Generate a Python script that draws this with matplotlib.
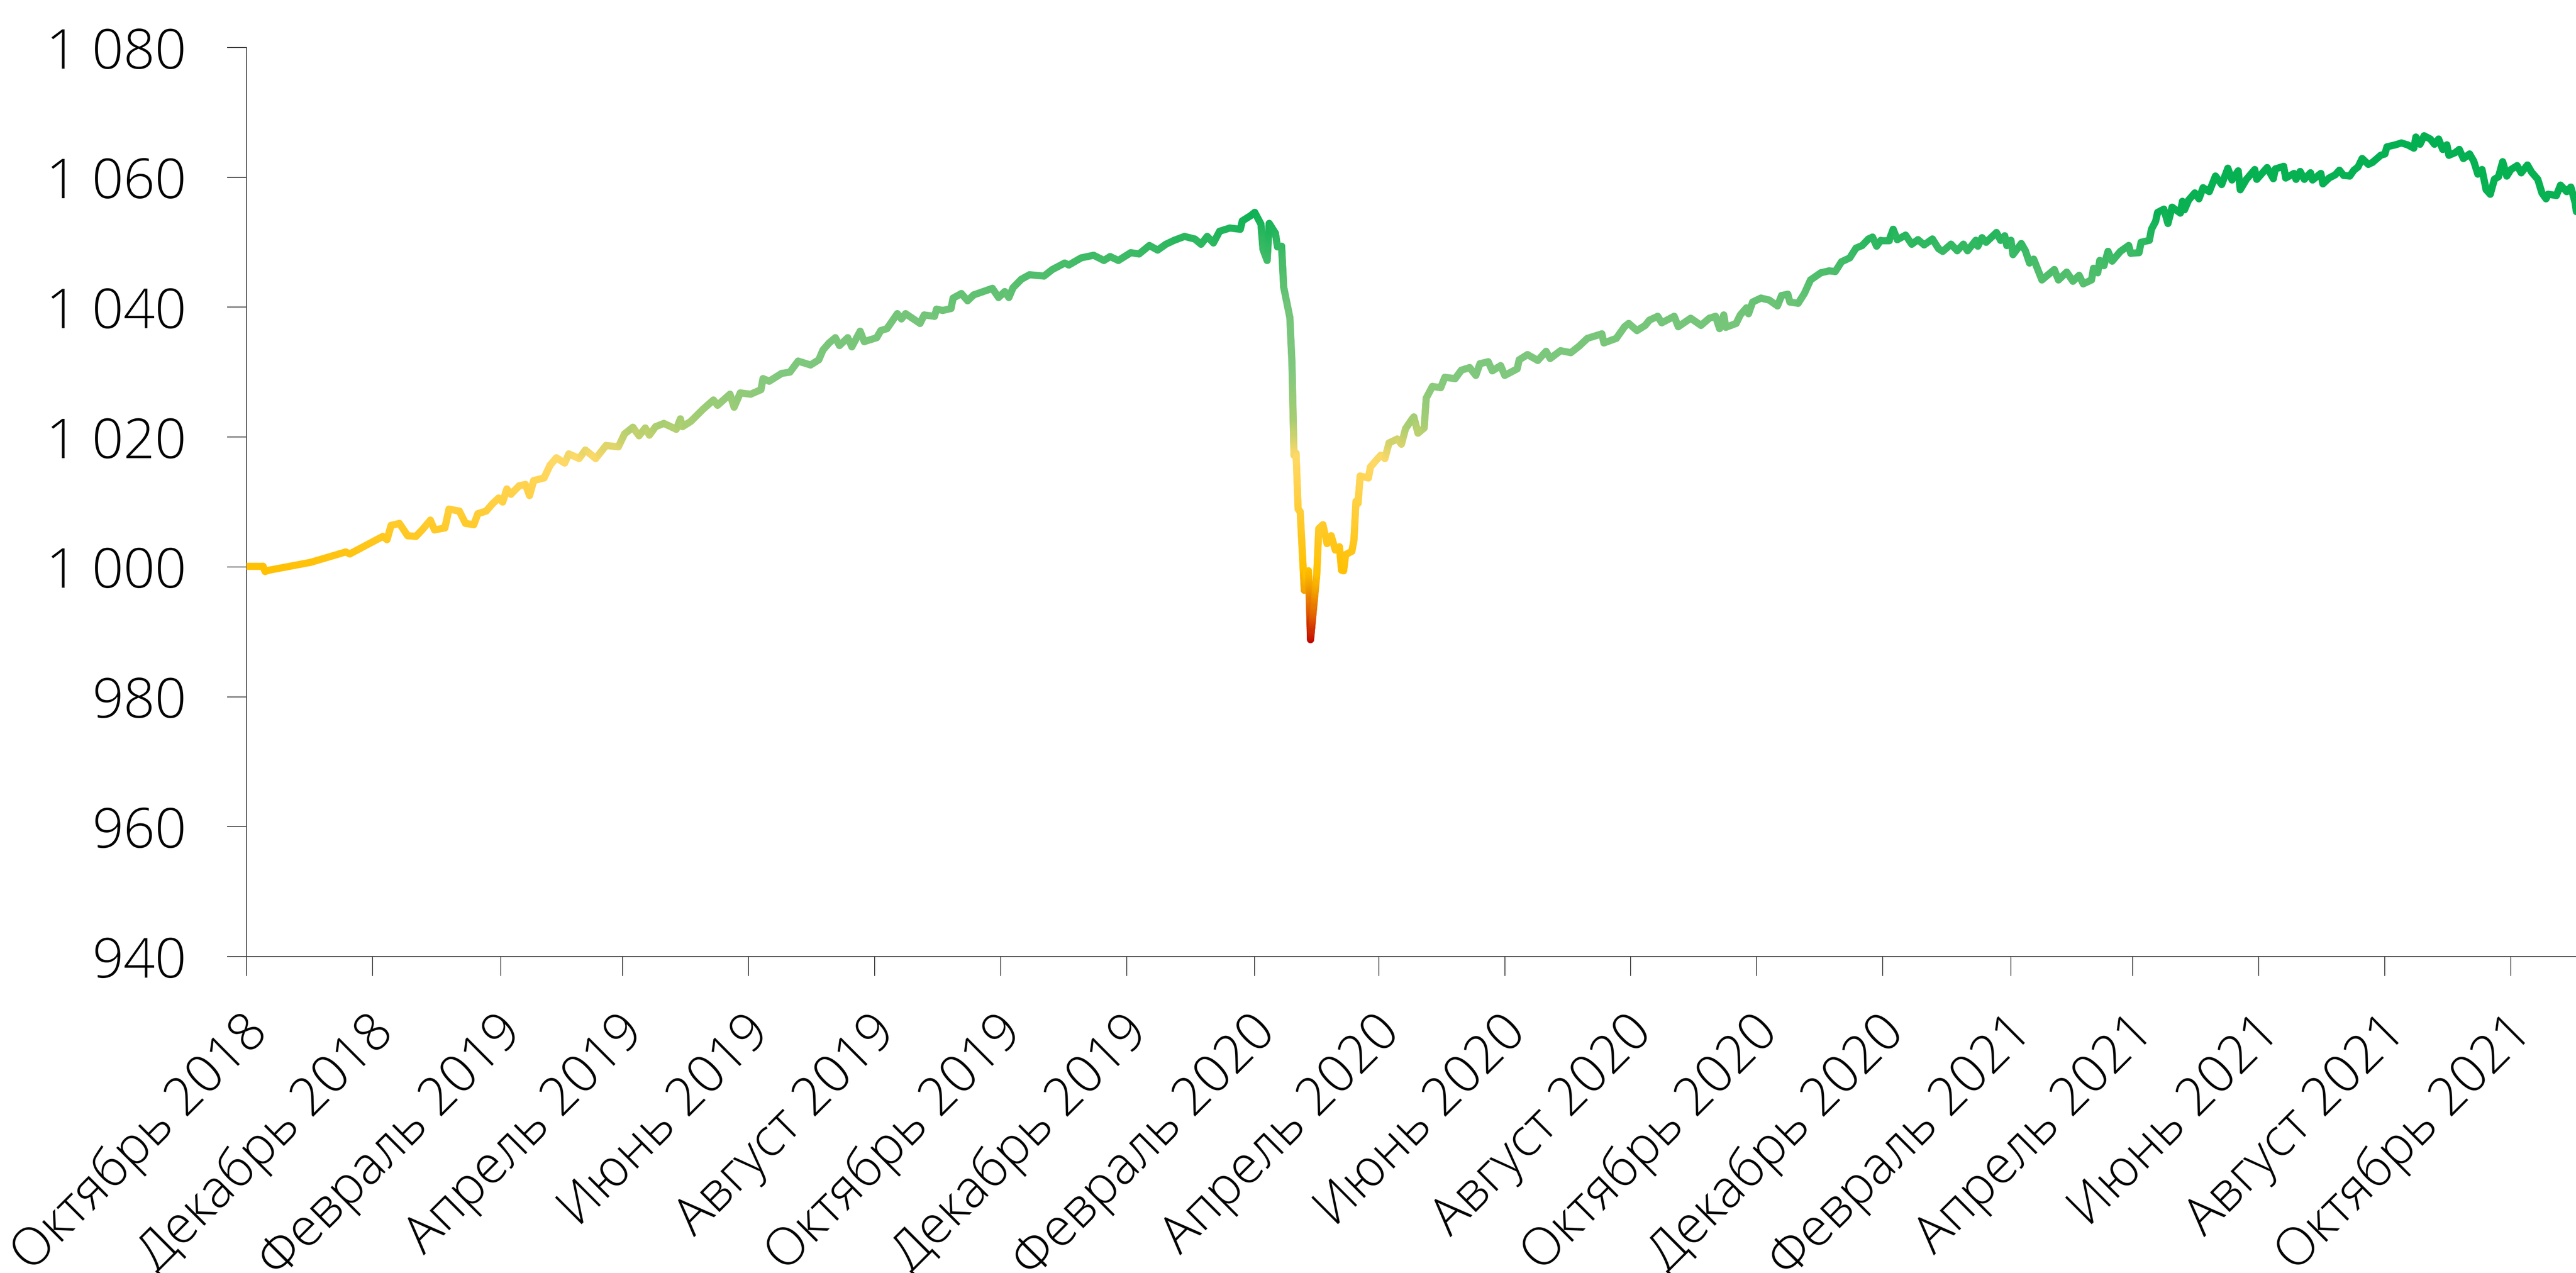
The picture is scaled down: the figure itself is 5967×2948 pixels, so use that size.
import numpy as np
import pandas as pd
import matplotlib
matplotlib.use("Agg")
import matplotlib.pyplot as plt
import matplotlib.dates as mdates
from matplotlib.collections import LineCollection
from matplotlib.colors import LinearSegmentedColormap, Normalize
from matplotlib.transforms import ScaledTranslation

# ---------------- data ----------------
start_date = "2018-10-01"
day_offset = [
    0, 8, 9, 11, 31, 48, 50, 66, 68, 70, 74, 78, 82, 85, 89, 91, 96, 98, 103, 106,
    110, 112, 116, 119, 122, 124, 126, 128, 132, 135, 137, 139, 144, 147, 150, 154, 156, 161, 164, 169,
    174, 180, 183, 187, 190, 193, 195, 198, 202, 208, 210, 211, 215, 221, 226, 228, 234, 236, 239, 244,
    249, 250, 253, 259, 263, 267, 273, 277, 279, 282, 285, 287, 291, 293, 297, 299, 305, 307, 310, 315,
    317, 319, 326, 328, 333, 334, 337, 341, 342, 346, 349, 352, 361, 364, 367, 369, 371, 375, 379, 386,
    390, 396, 398, 404, 410, 415, 418, 422, 428, 432, 437, 441, 445, 449, 454, 459, 462, 465, 468, 471,
    476, 481, 482, 486, 488, 491, 492, 494, 495, 498, 499, 501, 502, 505, 506, 507, 508, 509, 510, 512,
    513, 514, 515, 518, 519, 521, 523, 525, 527, 529, 530, 531, 532, 535, 536, 537, 538, 539, 543, 544,
    547, 549, 551, 553, 557, 559, 561, 564, 565, 567, 570, 571, 574, 578, 580, 585, 588, 592, 595, 597,
    601, 603, 607, 609, 615, 616, 620, 625, 629, 631, 636, 641, 645, 649, 656, 657, 663, 667, 669, 673,
    677, 679, 683, 685, 691, 693, 699, 704, 708, 711, 713, 715, 716, 721, 723, 726, 727, 729, 733, 737,
    741, 743, 746, 747, 751, 754, 757, 762, 766, 769, 772, 776, 779, 782, 785, 787, 789, 791, 795, 797,
    799, 803, 806, 809, 812, 816, 819, 821, 825, 828, 831, 833, 837, 838, 840, 842, 847, 849, 851, 852,
    854, 855, 859, 861, 863, 865, 867, 869, 875, 877, 881, 884, 887, 889, 893, 894, 896, 897, 899, 901,
    903, 907, 911, 912, 916, 917, 921, 922, 924, 925, 928, 930, 932, 936, 937, 938, 940, 943, 945, 947,
    950, 953, 956, 959, 961, 964, 965, 968, 972, 973, 978, 981, 982, 986, 987, 991, 992, 994, 996, 999,
    1000, 1004, 1005, 1008, 1011, 1013, 1015, 1018, 1020, 1022, 1024, 1027, 1029, 1033, 1035, 1036, 1040, 1043, 1046, 1049,
    1050, 1052, 1054, 1057, 1059, 1061, 1063, 1065, 1066, 1069, 1071, 1073, 1076, 1078, 1080, 1082, 1084, 1086, 1088, 1090,
    1092, 1094, 1096, 1099, 1101, 1104, 1106, 1109, 1111, 1113, 1114, 1118, 1120, 1123, 1125, 1127, 1128,
]
index_value = [
    1000.1, 1000.1, 999.3, 999.5, 1000.7, 1002.3, 1002.0, 1004.7, 1004.2, 1006.4, 1006.7, 1004.8, 1004.7, 1005.7, 1007.2, 1005.7, 1006.0, 1008.9, 1008.6, 1006.7,
    1006.5, 1008.2, 1008.6, 1009.7, 1010.6, 1010.0, 1012.0, 1011.2, 1012.5, 1012.7, 1011.0, 1013.3, 1013.7, 1015.7, 1016.8, 1016.0, 1017.4, 1016.7, 1018.0, 1016.7,
    1018.7, 1018.5, 1020.5, 1021.5, 1020.2, 1021.4, 1020.3, 1021.6, 1022.1, 1021.2, 1022.8, 1021.6, 1022.4, 1024.3, 1025.7, 1024.9, 1026.6, 1024.6, 1026.8, 1026.6,
    1027.3, 1029.0, 1028.6, 1029.8, 1030.0, 1031.7, 1031.1, 1031.9, 1033.4, 1034.5, 1035.3, 1034.1, 1035.3, 1033.9, 1036.3, 1034.7, 1035.3, 1036.4, 1036.7, 1039.0,
    1038.2, 1039.0, 1037.5, 1038.8, 1038.6, 1039.7, 1039.5, 1039.8, 1041.4, 1042.1, 1041.0, 1041.9, 1042.9, 1041.5, 1042.4, 1041.5, 1043.0, 1044.3, 1045.0, 1044.8,
    1045.8, 1046.8, 1046.5, 1047.6, 1048.0, 1047.2, 1047.8, 1047.2, 1048.4, 1048.2, 1049.5, 1048.8, 1049.7, 1050.3, 1050.9, 1050.5, 1049.7, 1050.9, 1049.9, 1051.7,
    1052.2, 1052.0, 1053.3, 1054.1, 1054.6, 1052.8, 1048.9, 1047.2, 1052.9, 1051.4, 1049.3, 1049.4, 1043.1, 1038.4, 1031.5, 1017.2, 1017.5, 1008.9, 1008.5, 996.4,
    999.2, 999.4, 988.8, 998.8, 1005.9, 1006.5, 1003.6, 1004.8, 1002.6, 1003.1, 999.5, 999.4, 1001.9, 1002.4, 1004.1, 1010.1, 1009.8, 1014.0, 1013.7, 1015.4,
    1016.5, 1017.2, 1016.7, 1019.1, 1019.7, 1018.9, 1021.3, 1022.7, 1023.1, 1020.6, 1021.4, 1026.0, 1027.8, 1027.6, 1029.2, 1029.0, 1030.3, 1030.7, 1029.5, 1031.3,
    1031.6, 1030.2, 1031.0, 1029.5, 1030.5, 1031.9, 1032.7, 1031.8, 1033.2, 1032.1, 1033.3, 1033.0, 1034.0, 1035.2, 1035.9, 1034.5, 1035.2, 1037.0, 1037.5, 1036.4,
    1037.2, 1038.0, 1038.6, 1037.6, 1038.6, 1037.0, 1038.3, 1037.2, 1038.3, 1038.6, 1036.7, 1038.8, 1036.9, 1037.5, 1038.8, 1039.9, 1039.0, 1040.8, 1041.4, 1041.1,
    1040.2, 1041.8, 1042.0, 1040.8, 1040.6, 1042.1, 1044.2, 1045.3, 1045.6, 1045.5, 1047.0, 1047.6, 1049.1, 1049.5, 1050.5, 1050.8, 1049.4, 1050.3, 1050.3, 1052.0,
    1050.4, 1051.1, 1049.7, 1050.4, 1049.6, 1050.5, 1049.0, 1048.6, 1049.7, 1048.7, 1049.7, 1048.7, 1050.3, 1049.4, 1050.7, 1050.0, 1051.5, 1050.3, 1051.0, 1049.5,
    1050.3, 1048.1, 1049.8, 1048.7, 1046.8, 1047.4, 1045.8, 1044.2, 1045.8, 1044.2, 1045.4, 1044.0, 1044.9, 1043.6, 1044.2, 1046.0, 1045.3, 1047.2, 1046.4, 1048.6,
    1047.1, 1048.6, 1049.5, 1048.3, 1048.4, 1050.0, 1050.3, 1052.0, 1053.2, 1054.6, 1055.1, 1052.9, 1055.4, 1054.5, 1056.3, 1055.0, 1056.5, 1057.6, 1056.7, 1058.4,
    1057.8, 1060.2, 1058.9, 1061.4, 1059.6, 1061.0, 1058.1, 1059.7, 1061.2, 1059.7, 1061.5, 1059.8, 1061.3, 1061.7, 1059.9, 1060.6, 1059.7, 1060.9, 1059.7, 1060.7,
    1059.6, 1060.6, 1059.0, 1059.9, 1060.4, 1061.1, 1060.3, 1060.2, 1061.1, 1061.6, 1062.9, 1062.0, 1062.3, 1063.4, 1063.6, 1064.7, 1065.0, 1065.3, 1065.0, 1064.5,
    1066.2, 1065.1, 1066.4, 1065.9, 1065.1, 1065.9, 1064.3, 1065.0, 1063.4, 1063.8, 1064.3, 1062.9, 1063.6, 1062.5, 1060.5, 1061.2, 1058.1, 1057.4, 1059.7, 1060.1,
    1062.4, 1060.2, 1061.2, 1061.8, 1060.7, 1061.9, 1060.8, 1059.7, 1057.6, 1056.7, 1057.4, 1057.2, 1058.8, 1057.8, 1058.5, 1056.2, 1054.1,
]

tick_dates = ["2018-10-01", "2018-12-01", "2019-02-01", "2019-04-01", "2019-06-01", "2019-08-01",
              "2019-10-01", "2019-12-01", "2020-02-01", "2020-04-01", "2020-06-01", "2020-08-01",
              "2020-10-01", "2020-12-01", "2021-02-01", "2021-04-01", "2021-06-01", "2021-08-01",
              "2021-10-01"]
tick_labels = ["Октябрь 2018", "Декабрь 2018", "Февраль 2019", "Апрель 2019", "Июнь 2019",
               "Август 2019", "Октябрь 2019", "Декабрь 2019", "Февраль 2020", "Апрель 2020",
               "Июнь 2020", "Август 2020", "Октябрь 2020", "Декабрь 2020", "Февраль 2021",
               "Апрель 2021", "Июнь 2021", "Август 2021", "Октябрь 2021"]
y_ticks = [940, 960, 980, 1000, 1020, 1040, 1060, 1080]
y_tick_labels = ["940", "960", "980", "1 000", "1 020", "1 040", "1 060", "1 080"]

# colour stops (value -> colour) of the vertical gradient
grad_values = [988.5, 992.5, 996.5, 999.0, 1016.5, 1022.0, 1030.0, 1039.0, 1047.0, 1055.0, 1070.0]
grad_colors = ["#C00000", "#E05A00", "#F2A000", "#FFC000", "#FFD966", "#A9CE72",
               "#7FC87E", "#74C579", "#45BC68", "#0AB153", "#00B050"]

# ---------------- figure ----------------
DPI = 100
plt.rcParams["font.family"] = ["Open Sans", "DejaVu Sans"]
fig = plt.figure(figsize=(5967 / DPI, 2948 / DPI), dpi=DPI)
ax = fig.add_axes([571 / 5967, 1 - 2215 / 2948, 1 - 571 / 5967, (2215 - 110) / 2948])

dates = pd.Timestamp(start_date) + pd.to_timedelta(day_offset, unit="D")
xnum = mdates.date2num(dates.to_pydatetime())
yv = np.asarray(index_value, dtype=float)

# gradient colormap by value
vmin, vmax = grad_values[0], grad_values[-1]
stops = [((v - vmin) / (vmax - vmin), c) for v, c in zip(grad_values, grad_colors)]
cmap = LinearSegmentedColormap.from_list("grad", stops)
norm = Normalize(vmin, vmax)

# split each drawn segment finely so the colour follows the vertical gradient
segs, cols = [], []
for i in range(len(xnum) - 1):
    n = max(1, int(np.ceil(abs(yv[i + 1] - yv[i]) / 0.3)))
    t = np.linspace(0, 1, n + 1)
    xs = xnum[i] + (xnum[i + 1] - xnum[i]) * t
    ys = yv[i] + (yv[i + 1] - yv[i]) * t
    for k in range(n):
        segs.append([(xs[k], ys[k]), (xs[k + 1], ys[k + 1])])
        cols.append(cmap(norm(0.5 * (ys[k] + ys[k + 1]))))

lc = LineCollection(segs, colors=cols, linewidths=16.5 * 72 / DPI,
                    capstyle="round", joinstyle="round", zorder=3)
ax.add_collection(lc)

ax.set_xlim(mdates.date2num(pd.Timestamp(start_date)), mdates.date2num(pd.Timestamp(start_date)) + 1127.5)
ax.set_ylim(940, 1080)

for s in ["top", "right"]:
    ax.spines[s].set_visible(False)
for s in ["left", "bottom"]:
    ax.spines[s].set_color("#404040")
    ax.spines[s].set_linewidth(2 * 72 / DPI)

fs = 92
ax.set_yticks(y_ticks)
ax.set_yticklabels(y_tick_labels, fontsize=fs, fontweight="light")
ax.tick_params(axis="y", direction="out", length=45 * 72 / DPI, width=2 * 72 / DPI,
               color="#404040", pad=68)

tick_pos = mdates.date2num(pd.to_datetime(tick_dates).to_pydatetime())
ax.set_xticks(tick_pos)
ax.set_xticklabels(tick_labels, fontsize=87, fontweight="light", rotation=45,
                   ha="right", va="top", rotation_mode="anchor")
ax.tick_params(axis="x", direction="out", length=45 * 72 / DPI, width=2 * 72 / DPI,
               color="#404040", pad=50)
offset = ScaledTranslation(-12 / DPI, 0, fig.dpi_scale_trans)
for lab in ax.get_xticklabels():
    lab.set_transform(lab.get_transform() + offset)

fig.savefig("out.png", dpi=DPI, facecolor="white")
